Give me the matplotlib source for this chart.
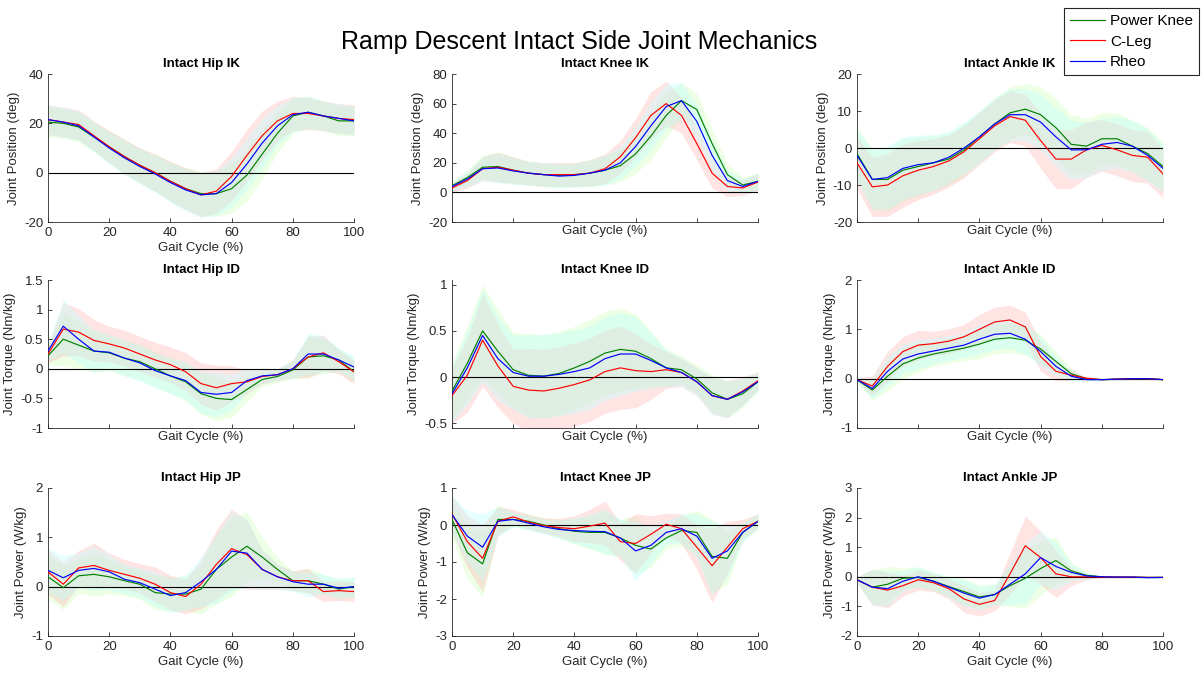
import numpy as np
import matplotlib.pyplot as plt

plt.rcParams["font.family"] = ["Liberation Sans", "DejaVu Sans"]

# Gait cycle sample points (%)
gait = list(range(0, 101, 5))

series_names = ["Power Knee", "C-Leg", "Rheo"]
line_colors = [(0.0, 0.5, 0.0), (1.0, 0.0, 0.0), (0.0, 0.0, 1.0)]
band_colors = [(0.82, 1.0, 0.72), (1.0, 0.72, 0.72), (0.75, 1.0, 1.0)]

# Hip IK (deg)
hip_ik_pk = [20.5, 20, 18.5, 14.5, 10.5, 6.5, 3, 0, -3.5, -6.5, -8.5, -8.5, -6.5, -1, 7.5, 16, 23, 24.5, 23, 21, 21]
hip_ik_cl = [21.5, 20.5, 19.5, 15, 10.5, 6.5, 3, 0, -3.5, -6.5, -9, -7.5, -1.5, 7, 15, 21, 24, 24, 23, 22, 21.5]
hip_ik_rh = [21.5, 20.5, 19, 14.5, 10, 6, 2.5, -0.5, -4, -7, -9, -8.5, -4, 3.5, 12, 19, 23.5, 24.5, 23, 22, 21]
hip_ik_sd = [6, 6, 6, 6, 6.5, 7, 7, 7.5, 8, 8.5, 9, 9, 10, 10.5, 10, 8, 7, 6.5, 6, 6, 6]

# Knee IK (deg)
knee_ik_pk = [4.5, 10, 17, 17.5, 15, 13, 12, 11.5, 12, 13, 15, 18, 26, 38, 52, 62, 56, 33, 12, 5, 7.5]
knee_ik_cl = [3, 8, 16, 17, 15, 13, 12, 12, 12, 13, 16, 24, 37, 52, 60, 52, 33, 13, 4, 3, 7]
knee_ik_rh = [4, 9, 16, 16.5, 14.5, 13, 12, 11, 11.5, 13, 15, 20, 31, 45, 58, 62, 48, 25, 8, 4, 7.5]
knee_ik_sd = [3, 5, 8, 10, 9, 8, 8, 8, 8, 9, 10, 11, 13, 16, 15, 12, 11, 10, 7, 5, 6]

# Ankle IK (deg)
ankle_ik_pk = [-1.5, -8.5, -8.5, -6, -5, -4, -3, -0.5, 3, 6.5, 9.5, 10.5, 9, 5.5, 1, 0.5, 2.5, 2.5, 0.5, -1.5, -5]
ankle_ik_cl = [-4, -10.5, -10, -7.5, -6, -5, -3.5, -1, 2.5, 6, 8.5, 7.5, 2, -3, -3, -0.5, 0.7, -0.5, -2, -2.5, -7]
ankle_ik_rh = [-2, -8.5, -8, -5.5, -4.5, -4, -2.5, 0, 3, 6.5, 9, 9, 7, 3, -0.5, -0.5, 1, 1.5, 0.5, -2, -5.5]
ankle_ik_sd = [7, 8, 8.5, 8.5, 8, 7.5, 7, 7, 7, 7, 7, 7, 7.5, 8, 8, 7.5, 7, 7, 7, 7, 6.5]

# Hip ID (Nm/kg)
hip_id_pk = [0.22, 0.5, 0.4, 0.3, 0.27, 0.18, 0.12, 0.0, -0.12, -0.22, -0.42, -0.5, -0.52, -0.35, -0.18, -0.13, -0.02, 0.2, 0.22, 0.15, -0.05]
hip_id_cl = [0.25, 0.67, 0.62, 0.48, 0.42, 0.35, 0.25, 0.15, 0.07, -0.05, -0.25, -0.32, -0.25, -0.22, -0.13, -0.1, 0.0, 0.2, 0.27, 0.12, -0.05]
hip_id_rh = [0.3, 0.72, 0.5, 0.3, 0.28, 0.18, 0.1, -0.03, -0.12, -0.2, -0.4, -0.43, -0.4, -0.2, -0.12, -0.1, 0.0, 0.25, 0.25, 0.15, 0.03]
hip_id_sd = [0.15, 0.45, 0.4, 0.35, 0.3, 0.3, 0.3, 0.3, 0.3, 0.32, 0.35, 0.38, 0.3, 0.2, 0.12, 0.1, 0.15, 0.35, 0.3, 0.2, 0.2]

# Knee ID (Nm/kg)
knee_id_pk = [-0.15, 0.15, 0.5, 0.28, 0.08, 0.02, 0.01, 0.04, 0.1, 0.17, 0.26, 0.3, 0.28, 0.2, 0.1, 0.08, -0.02, -0.17, -0.24, -0.18, -0.05]
knee_id_cl = [-0.2, 0.02, 0.4, 0.12, -0.1, -0.14, -0.15, -0.12, -0.08, -0.03, 0.06, 0.1, 0.07, 0.06, 0.08, 0.05, -0.05, -0.2, -0.24, -0.15, -0.04]
knee_id_rh = [-0.18, 0.1, 0.45, 0.2, 0.05, 0.01, 0.01, 0.03, 0.06, 0.1, 0.2, 0.25, 0.25, 0.18, 0.1, 0.05, -0.05, -0.2, -0.24, -0.16, -0.05]
knee_id_sd = [0.3, 0.4, 0.5, 0.45, 0.4, 0.45, 0.45, 0.45, 0.45, 0.45, 0.45, 0.45, 0.4, 0.3, 0.2, 0.15, 0.15, 0.2, 0.2, 0.15, 0.1]

# Ankle ID (Nm/kg)
ankle_id_pk = [-0.02, -0.23, 0.05, 0.3, 0.42, 0.5, 0.56, 0.62, 0.7, 0.8, 0.83, 0.78, 0.6, 0.35, 0.1, 0.0, -0.02, -0.01, 0.0, 0.0, -0.02]
ankle_id_cl = [-0.02, -0.15, 0.25, 0.55, 0.68, 0.71, 0.76, 0.85, 1.0, 1.15, 1.19, 1.05, 0.45, 0.15, 0.07, 0.01, -0.02, -0.01, 0.0, 0.0, -0.02]
ankle_id_rh = [-0.02, -0.2, 0.15, 0.4, 0.5, 0.56, 0.62, 0.68, 0.8, 0.9, 0.92, 0.8, 0.55, 0.25, 0.05, -0.02, -0.02, -0.01, 0.0, 0.0, -0.02]
ankle_id_sd = [0.05, 0.2, 0.3, 0.3, 0.3, 0.25, 0.25, 0.25, 0.3, 0.3, 0.3, 0.3, 0.3, 0.2, 0.1, 0.03, 0.02, 0.02, 0.02, 0.02, 0.02]

# Hip JP (W/kg)
hip_jp_pk = [0.2, -0.02, 0.22, 0.25, 0.2, 0.12, 0.05, -0.12, -0.15, -0.15, -0.05, 0.35, 0.6, 0.82, 0.6, 0.35, 0.12, 0.12, 0.05, -0.05, 0.0]
hip_jp_cl = [0.3, 0.05, 0.38, 0.43, 0.33, 0.25, 0.17, 0.05, -0.12, -0.2, 0.05, 0.45, 0.77, 0.65, 0.35, 0.2, 0.12, 0.12, -0.1, -0.08, -0.1]
hip_jp_rh = [0.33, 0.18, 0.33, 0.37, 0.3, 0.15, 0.08, -0.05, -0.18, -0.12, 0.1, 0.35, 0.72, 0.68, 0.35, 0.2, 0.1, 0.05, 0.05, -0.03, 0.0]
hip_jp_sd = [0.45, 0.45, 0.35, 0.45, 0.35, 0.3, 0.3, 0.35, 0.35, 0.35, 0.5, 0.7, 0.8, 0.7, 0.4, 0.25, 0.2, 0.25, 0.2, 0.2, 0.2]

# Knee JP (W/kg)
knee_jp_pk = [0.15, -0.75, -1.05, 0.15, 0.15, 0.1, 0.0, -0.1, -0.17, -0.2, -0.2, -0.35, -0.55, -0.65, -0.35, -0.15, -0.2, -0.85, -0.9, -0.2, 0.1]
knee_jp_cl = [0.3, -0.45, -0.9, 0.1, 0.22, 0.08, -0.02, -0.07, -0.1, -0.03, 0.05, -0.45, -0.5, -0.25, 0.02, -0.1, -0.6, -1.1, -0.6, -0.1, 0.1]
knee_jp_rh = [0.28, -0.3, -0.6, 0.1, 0.15, 0.05, -0.05, -0.12, -0.15, -0.17, -0.18, -0.35, -0.7, -0.55, -0.2, -0.1, -0.3, -0.9, -0.7, -0.2, 0.1]
knee_jp_sd = [0.5, 0.7, 0.9, 0.4, 0.2, 0.2, 0.2, 0.25, 0.35, 0.45, 0.6, 0.5, 0.8, 0.5, 0.3, 0.4, 0.6, 1.0, 0.7, 0.25, 0.2]

# Ankle JP (W/kg)
ankle_jp_pk = [-0.1, -0.35, -0.25, -0.05, -0.02, -0.15, -0.33, -0.5, -0.68, -0.6, -0.3, -0.05, 0.28, 0.55, 0.2, 0.05, 0.0, -0.01, -0.01, -0.02, -0.02]
ankle_jp_cl = [-0.1, -0.35, -0.45, -0.3, -0.1, -0.2, -0.4, -0.75, -0.93, -0.8, 0.1, 1.05, 0.65, 0.1, 0.0, 0.0, -0.01, -0.01, -0.01, -0.02, -0.02]
ankle_jp_rh = [-0.1, -0.35, -0.4, -0.15, 0.0, -0.15, -0.35, -0.55, -0.72, -0.6, -0.25, 0.1, 0.65, 0.35, 0.15, 0.03, 0.0, -0.01, -0.01, -0.03, -0.02]
ankle_jp_sd = [0.1, 0.6, 0.6, 0.35, 0.35, 0.3, 0.35, 0.45, 0.4, 0.35, 0.7, 1.0, 0.9, 0.8, 0.3, 0.1, 0.02, 0.02, 0.02, 0.02, 0.02]

titles = ["Intact Hip IK", "Intact Knee IK", "Intact Ankle IK",
          "Intact Hip ID", "Intact Knee ID", "Intact Ankle ID",
          "Intact Hip JP", "Intact Knee JP", "Intact Ankle JP"]
row_ylabels = ["Joint Position (deg)", "Joint Torque (Nm/kg)", "Joint Power (W/kg)"]

panel_data = [
    (hip_ik_pk, hip_ik_cl, hip_ik_rh, hip_ik_sd),
    (knee_ik_pk, knee_ik_cl, knee_ik_rh, knee_ik_sd),
    (ankle_ik_pk, ankle_ik_cl, ankle_ik_rh, ankle_ik_sd),
    (hip_id_pk, hip_id_cl, hip_id_rh, hip_id_sd),
    (knee_id_pk, knee_id_cl, knee_id_rh, knee_id_sd),
    (ankle_id_pk, ankle_id_cl, ankle_id_rh, ankle_id_sd),
    (hip_jp_pk, hip_jp_cl, hip_jp_rh, hip_jp_sd),
    (knee_jp_pk, knee_jp_cl, knee_jp_rh, knee_jp_sd),
    (ankle_jp_pk, ankle_jp_cl, ankle_jp_rh, ankle_jp_sd),
]

y_limits = [(-20, 40), (-20, 80), (-20, 20),
            (-1, 1.5), (-0.55, 1.05), (-1, 2),
            (-1, 2), (-3, 1), (-2, 3)]
y_ticks = [[-20, 0, 20, 40], [-20, 0, 20, 40, 60, 80], [-20, -10, 0, 10, 20],
           [-1, -0.5, 0, 0.5, 1, 1.5], [-0.5, 0, 0.5, 1], [-1, 0, 1, 2],
           [-1, 0, 1, 2], [-3, -2, -1, 0, 1], [-2, -1, 0, 1, 2, 3]]
show_xticklabels = [True, False, False, False, False, False, True, True, True]

# Figure layout in pixels
W, H = 1202, 677
lefts = [48, 452, 857]
tops = [74, 280, 488]
ax_w, ax_h = 306, 148
axis_color = "#262626"

fig = plt.figure(figsize=(W / 100, H / 100), dpi=100)
x = np.array(gait)

handles = []
for k in range(9):
    row, col = divmod(k, 3)
    ax = fig.add_axes([lefts[col] / W, 1 - (tops[row] + ax_h) / H, ax_w / W, ax_h / H])
    pk, cl, rh, sd = panel_data[k]
    sd = np.array(sd)

    # Standard deviation bands first, then the mean lines on top
    for mean, bc in zip([pk, cl, rh], band_colors):
        mean = np.array(mean)
        ax.fill_between(x, mean - sd, mean + sd, color=bc, alpha=0.38, linewidth=0, zorder=1)
    ax.axhline(0, color="black", linewidth=0.8, zorder=2)
    handles = []
    for mean, lc, name in zip([pk, cl, rh], line_colors, series_names):
        h, = ax.plot(x, mean, color=lc, linewidth=0.85, label=name, zorder=3)
        handles.append(h)

    ax.set_xlim(0, 100)
    ax.set_ylim(*y_limits[k])
    ax.set_yticks(y_ticks[k])
    ax.set_yticklabels([f"{t:g}" for t in y_ticks[k]])
    ax.set_xticks([0, 20, 40, 60, 80, 100])
    ax.tick_params(direction="in", length=3, width=0.6, colors=axis_color,
                   labelsize=9.5, labelbottom=show_xticklabels[k])
    for side in ["top", "right"]:
        ax.spines[side].set_visible(False)
    for side in ["left", "bottom"]:
        ax.spines[side].set_color(axis_color)
        ax.spines[side].set_linewidth(0.6)
    ax.set_title(titles[k], fontsize=9.5, fontweight="bold", pad=5)
    ax.set_xlabel("Gait Cycle (%)", fontsize=9.5, color=axis_color, labelpad=2)
    ax.set_ylabel(row_ylabels[row], fontsize=9.5, color=axis_color, labelpad=3)

fig.text(0.482, 0.938, "Ramp Descent Intact Side Joint Mechanics",
         ha="center", va="center", fontsize=18)

leg = fig.legend(handles, series_names, loc="upper right",
                 bbox_to_anchor=(1199 / W, 1 - 8 / H), fontsize=11,
                 handlelength=2.3, handletextpad=0.3, borderpad=0.4,
                 labelspacing=0.42, fancybox=False, framealpha=1,
                 borderaxespad=0)
leg.get_frame().set_edgecolor(axis_color)
leg.get_frame().set_linewidth(0.8)

fig.savefig("out.png", dpi=100)
